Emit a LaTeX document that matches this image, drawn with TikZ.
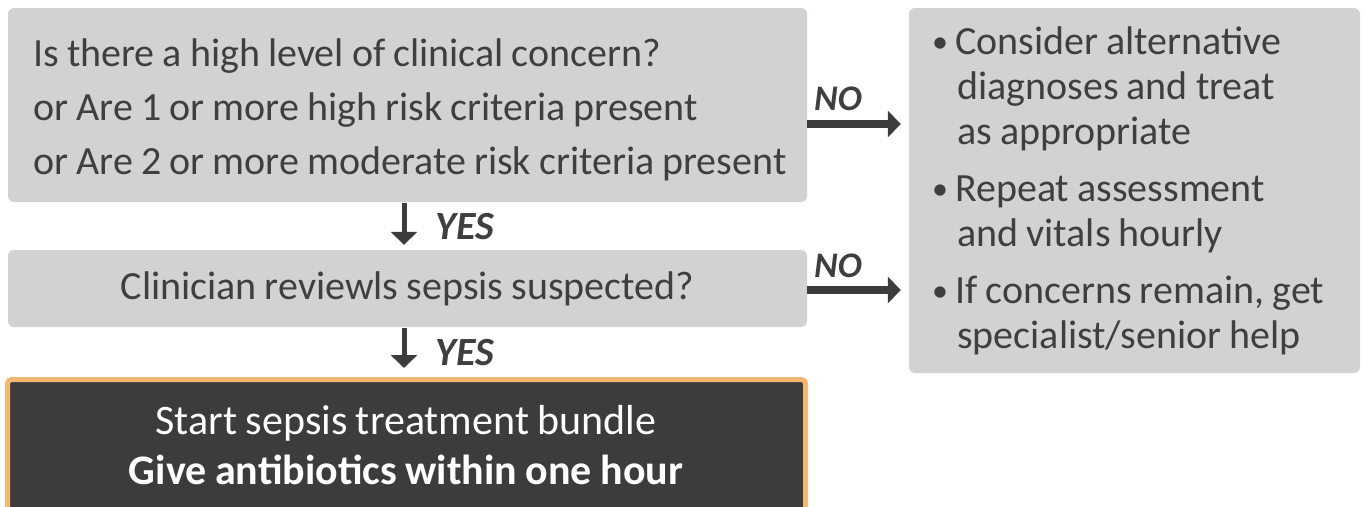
\documentclass[tikz,border=0pt]{standalone}
\usepackage{fontspec}
\setmainfont[WordSpace=0.9]{Carlito}
\usetikzlibrary{arrows.meta,calc}
\definecolor{boxgray}{HTML}{D1D2D4}
\definecolor{txt}{HTML}{3F3F3F}
\definecolor{darkbox}{HTML}{3C3C3C}
\definecolor{orangeb}{HTML}{F4B872}
\newcommand{\bul}{\makebox[23pt][l]{\raisebox{2pt}{\scalebox{0.8}{\textbullet}}}}
\newcommand{\ind}{\hspace*{25pt}}
\begin{document}
\begin{tikzpicture}[x=1pt,y=-1pt,
  gbox/.style={fill=boxgray,rounded corners=6pt,inner sep=0pt,text=txt,font=\fontsize{40}{54}\selectfont},
  gtxt/.style={text=txt,align=left,anchor=west,inner sep=0pt},
  arr/.style={draw=darkbox,-{Triangle[length=13pt,width=26pt]}},
  lab/.style={text=txt,inner sep=0pt}]
\useasboundingbox (0,0) rectangle (1365,506);
\node[gbox,minimum width=799pt,minimum height=194pt] (q1) at (407.5,105) {};
\node[gtxt,font=\fontsize{40}{54}\selectfont] (q1txt) at (33,109.5)
 {Is there a high level of clinical concern?\\or Are 1 or more high risk criteria present\\or Are 2 or more moderate risk criteria present};
\node[gbox,minimum width=799pt,minimum height=77pt,align=center] (q2) at (407.5,288.5) {Clinician reviewls sepsis suspected?};
\node[draw=orangeb,line width=5pt,fill=darkbox,rounded corners=4pt,minimum width=798pt,minimum height=140pt,inner sep=0pt] (act) at (406.5,449.5) {};
\node[text=white,align=center,font=\fontsize{42}{50}\selectfont,inner sep=0pt] (acttxt) at (406,445) {Start sepsis treatment bundle\\\textbf{Give antibiotics within one hour}};
\node[gbox,minimum width=451pt,minimum height=365pt] (alt) at (1134.5,190.5) {};
\node[gtxt,font=\fontsize{40}{45}\selectfont] (alttxt) at (932,190.5)
 {\bul Consider alternative\\\ind diagnoses and treat\\\ind as appropriate\\[12pt]
  \bul Repeat assessment\\\ind and vitals hourly\\[12pt]
  \bul If concerns remain, get\\\ind specialist/senior help};
\coordinate (a1s) at (404,203);
\coordinate (a2s) at (404,328);
\draw[arr,line width=5pt,shorten >=5pt] (a1s) -- (a1s |- q2.north);
\draw[arr,line width=5pt,shorten >=9pt] (a2s) -- (a2s |- act.north);
\draw[arr,line width=8pt,shorten >=8pt] (q1.east |- 0,124) -- (alt.west |- 0,124);
\draw[arr,line width=8pt,shorten >=8pt] (q2.east |- 0,290) -- (alt.west |- 0,290);
\node[lab,font=\fontsize{40}{40}\selectfont\bfseries\itshape] (yes1) at (465,227) {YES};
\node[lab,font=\fontsize{40}{40}\selectfont\bfseries\itshape] (yes2) at (465,353) {YES};
\node[lab,font=\fontsize{36}{36}\selectfont\bfseries\itshape] (no1) at (838,99) {NO};
\node[lab,font=\fontsize{36}{36}\selectfont\bfseries\itshape] (no2) at (838,266) {NO};
\end{tikzpicture}
\end{document}
